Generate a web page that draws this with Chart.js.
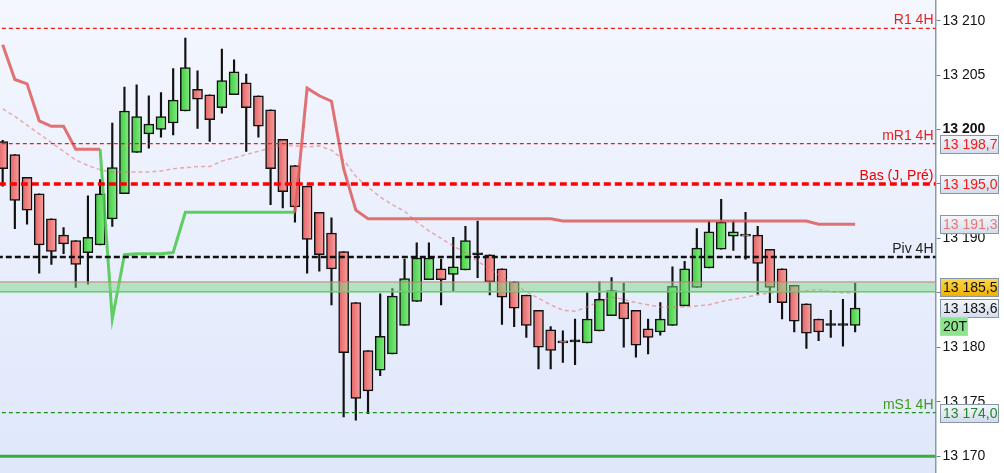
<!DOCTYPE html>
<html>
<head>
<meta charset="utf-8">
<script src="https://cdn.jsdelivr.net/npm/chart.js@4.4.0/dist/chart.umd.min.js"></script>
<style>
  html, body { margin: 0; padding: 0; background: #fff; }
  #wrap { width: 1004px; height: 473px; }
</style>
</head>
<body>
<div id="wrap"><canvas id="chart" width="1004" height="473"></canvas></div>
<script>
// candles (4H)
const opens = [
  13198.9, 13197.7, 13195.6, 13194.1, 13191.8, 13190.3, 13189.8, 13188.7, 13189.4, 13191.8,
  13194.1, 13197.9, 13199.6, 13200.0, 13200.6, 13201.7, 13203.7, 13203.2, 13202.0, 13203.2,
  13204.3, 13203.1, 13201.8, 13199.1, 13196.7, 13194.8, 13192.4, 13190.5, 13188.8, 13184.1,
  13179.7, 13177.9, 13179.4, 13182.0, 13184.2, 13186.2, 13187.2, 13186.7, 13187.1, 13188.5,
  13188.5, 13187.2, 13186.0, 13184.8, 13183.4, 13181.6, 13180.6, 13180.5, 13180.4, 13181.5,
  13182.9, 13184.1, 13183.4, 13181.7, 13181.4, 13182.0, 13183.8, 13185.5, 13187.3, 13189.0,
  13190.2, 13190.4, 13190.3, 13189.0, 13187.2, 13185.7, 13184.0, 13182.6, 13182.0, 13182.0, 13182.0
]
const highs = [
  13199.0, 13197.7, 13195.6, 13194.1, 13191.8, 13191.0, 13189.8, 13193.9, 13195.4, 13200.6,
  13203.9, 13204.1, 13203.1, 13203.4, 13205.6, 13208.4, 13205.4, 13203.2, 13207.4, 13206.4,
  13205.1, 13203.1, 13201.8, 13199.1, 13196.7, 13194.8, 13192.4, 13191.9, 13188.8, 13184.1,
  13179.7, 13184.9, 13185.4, 13188.1, 13189.6, 13189.6, 13188.1, 13190.1, 13191.1, 13191.6,
  13188.5, 13187.2, 13186.0, 13184.8, 13183.4, 13181.9, 13181.5, 13182.6, 13185.0, 13186.0,
  13186.4, 13185.9, 13183.4, 13182.6, 13184.1, 13187.4, 13187.9, 13190.9, 13191.6, 13193.6,
  13191.6, 13192.4, 13191.1, 13189.0, 13187.2, 13185.7, 13184.0, 13182.6, 13183.4, 13184.4, 13185.9
]
const lows = [
  13194.8, 13190.9, 13191.3, 13186.8, 13187.6, 13188.6, 13185.5, 13185.8, 13189.4, 13191.1,
  13194.1, 13197.9, 13198.3, 13199.3, 13199.5, 13201.7, 13200.1, 13198.9, 13201.5, 13203.2,
  13198.0, 13199.3, 13193.1, 13192.8, 13191.5, 13186.8, 13187.0, 13183.9, 13173.6, 13173.3,
  13173.9, 13177.4, 13179.4, 13182.0, 13184.2, 13186.2, 13183.9, 13185.2, 13187.1, 13186.4,
  13184.8, 13182.1, 13181.9, 13180.9, 13178.0, 13178.0, 13178.6, 13178.4, 13180.4, 13181.5,
  13182.9, 13180.0, 13179.1, 13179.4, 13181.1, 13182.0, 13183.8, 13185.5, 13187.3, 13189.0,
  13188.9, 13188.1, 13184.9, 13184.1, 13182.6, 13181.4, 13179.9, 13180.6, 13180.9, 13180.1, 13181.4
]
const closes = [
  13196.4, 13193.5, 13192.6, 13189.4, 13188.8, 13189.5, 13187.6, 13190.1, 13194.1, 13196.5,
  13201.7, 13201.2, 13200.5, 13201.2, 13202.7, 13205.7, 13202.8, 13200.9, 13204.5, 13205.3,
  13202.0, 13200.3, 13196.4, 13194.3, 13192.9, 13189.9, 13188.5, 13187.2, 13179.5, 13175.3,
  13176.0, 13181.0, 13184.7, 13186.3, 13188.2, 13188.2, 13186.2, 13187.4, 13189.8, 13188.5,
  13186.0, 13184.6, 13183.6, 13182.0, 13180.0, 13179.7, 13180.4, 13180.5, 13182.6, 13184.4,
  13185.2, 13182.6, 13180.2, 13180.9, 13182.6, 13185.6, 13187.2, 13189.1, 13190.6, 13191.5,
  13190.6, 13190.2, 13187.7, 13185.5, 13184.1, 13182.4, 13181.3, 13181.4, 13182.0, 13182.0, 13183.6
]

// supertrend-like stop line, 1 = below price (green)
const trendLine = [
  13207.8, 13204.6, 13204.2, 13200.8, 13200.3, 13200.3, 13198.2, 13198.2, 13198.2, 13182.6,
  13188.5, 13188.6, 13188.6, 13188.6, 13188.7, 13192.4, 13192.4, 13192.4, 13192.4, 13192.4,
  13192.4, 13192.4, 13192.4, 13192.4, 13192.4, 13203.8, 13203.1, 13202.6, 13196.4, 13192.6,
  13191.8, 13191.8, 13191.8, 13191.8, 13191.8, 13191.8, 13191.8, 13191.8, 13191.8, 13191.8,
  13191.8, 13191.8, 13191.8, 13191.8, 13191.8, 13191.8, 13191.6, 13191.6, 13191.6, 13191.6,
  13191.6, 13191.6, 13191.6, 13191.6, 13191.6, 13191.6, 13191.6, 13191.6, 13191.6, 13191.6,
  13191.6, 13191.6, 13191.6, 13191.6, 13191.6, 13191.6, 13191.6, 13191.3, 13191.3, 13191.3, 13191.3
]
const trendUp = [
  0, 0, 0, 0, 0, 0, 0, 0, 0, 1,
  1, 1, 1, 1, 1, 1, 1, 1, 1, 1,
  1, 1, 1, 1, 1, 0, 0, 0, 0, 0,
  0, 0, 0, 0, 0, 0, 0, 0, 0, 0,
  0, 0, 0, 0, 0, 0, 0, 0, 0, 0,
  0, 0, 0, 0, 0, 0, 0, 0, 0, 0,
  0, 0, 0, 0, 0, 0, 0, 0, 0, 0, 0
]

// thin dashed moving average
const avgLine = [
  13201.9, 13201.2, 13200.4, 13199.6, 13198.8, 13198.0, 13197.2, 13196.7, 13196.3, 13196.1,
  13196.1, 13196.1, 13196.1, 13196.2, 13196.4, 13196.5, 13196.6, 13196.6, 13197.1, 13197.4,
  13197.7, 13198.0, 13198.3, 13198.6, 13198.5, 13198.4, 13198.5, 13198.1, 13197.2, 13195.7,
  13194.7, 13193.8, 13193.1, 13192.5, 13191.5, 13190.7, 13190.0, 13189.3, 13188.7, 13187.9,
  13187.2, 13186.4, 13185.8, 13185.1, 13184.5, 13183.9, 13183.4, 13183.3, 13183.7, 13184.2,
  13184.6, 13184.4, 13184.1, 13183.9, 13183.7, 13183.7, 13183.7, 13183.8, 13183.9, 13184.2,
  13184.4, 13184.6, 13184.8, 13185.0, 13185.0, 13185.1, 13185.2, 13185.3, 13185.1, 13185.0, 13185.0
]

// horizontal levels
const levelNames = ["R1 4H", "mR1 4H", "Bas (J, Pré)", "Piv 4H", "mS1 4H", ""]
const levelValues = [13209.3, 13198.7, 13195.0, 13188.3, 13174.0, 13170.0]
const bandValues = [13185.1, 13186.0]

// price boxes on the axis
const boxValues = [13198.7, 13195.0, 13191.3, 13185.5, 13183.6, 13174.0]
const tickValues = [13170, 13175, 13180, 13185, 13190, 13195, 13200, 13205, 13210]
const hiddenTicks = [13185, 13195]
const counterLabel = "20T"

// styles
const levelColors = ["#f01c1c", "#f01c1c", "#ff0000", "#111111", "#1f8f1f", "#3aad3a"]
const levelTextColors = ["#e82020", "#e82020", "#f00000", "#222222", "#3f9a1a", ""]
const levelWidths = [1.2, 1.2, 3.5, 2.5, 1.2, 3]
const levelDashes = [[4, 3], [4, 3], [7, 4], [6, 3], [4, 3], []]
const boxTextColors = ["#ec1c1c", "#ec1c1c", "#e77777", "#111111", "#111111", "#22882a"]

const FONT = "Liberation Sans, Arial, sans-serif"
const idx = opens.map((_, i) => i)

function fmt(v, dec) {
    const s = v.toFixed(dec).split(".")
    const ip = s[0].slice(0, -3) + " " + s[0].slice(-3)
    return dec ? ip + "," + s[1] : ip
}

function bodyFill(ctx) {
    const i = ctx.dataIndex
    const chart = ctx.chart
    if (opens[i] === closes[i]) return "#111111"
    const up = closes[i] > opens[i]
    if (!chart.chartArea) return up ? "#5ad85a" : "#ee7a7a"
    const x = chart.scales.x.getPixelForValue(i)
    const g = chart.ctx.createLinearGradient(x - 5, 0, x + 5, 0)
    if (up) {
        g.addColorStop(0, "#3fcc3f")
        g.addColorStop(1, "#86ec86")
    } else {
        g.addColorStop(0, "#e46262")
        g.addColorStop(1, "#f7a2a2")
    }
    return g
}

const X_MIN = -0.22
const X_MAX = 76.6
const span = v => [{ x: X_MIN - 1, y: v }, { x: X_MAX + 1, y: v }]

const levelSets = levelValues.map((v, k) => ({
    type: "line",
    data: span(v),
    borderColor: levelColors[k],
    borderWidth: levelWidths[k],
    borderDash: levelDashes[k],
    pointRadius: 0,
    order: 1
}))

const bgPlugin = {
    id: "bg",
    beforeDraw(chart) {
        const { ctx, chartArea: a } = chart
        ctx.save()
        ctx.fillStyle = "#ffffff"
        ctx.fillRect(0, 0, chart.width, chart.height)
        const g = ctx.createLinearGradient(0, a.top, 0, a.bottom)
        g.addColorStop(0, "#f4f7fe")
        g.addColorStop(1, "#dfe7fb")
        ctx.fillStyle = g
        ctx.fillRect(a.left, a.top, a.right - a.left, a.bottom - a.top)
        ctx.restore()
    }
}

function drawBox(ctx, x, yc, w, text, fill, textColor, border) {
    const h = 18
    const y = Math.round(yc - h / 2) + 0.5
    ctx.fillStyle = fill
    ctx.fillRect(x, y, w, h)
    ctx.strokeStyle = border
    ctx.lineWidth = 1
    ctx.strokeRect(x, y, w, h)
    ctx.fillStyle = textColor
    ctx.textBaseline = "middle"
    ctx.textAlign = "left"
    ctx.fillText(text, x + 2.5, y + h / 2 + 1)
}

const labelPlugin = {
    id: "labels",
    afterDraw(chart) {
        const { ctx, chartArea: a } = chart
        const yS = chart.scales.y
        ctx.save()
        ctx.font = "14px " + FONT
        // level names above their lines
        levelNames.forEach((name, k) => {
            if (!name) return
            const y = yS.getPixelForValue(levelValues[k])
            ctx.fillStyle = levelTextColors[k]
            ctx.textAlign = "right"
            ctx.textBaseline = "alphabetic"
            ctx.fillText(name, a.right - 2, y - 4)
        })
        // boxes on the price axis
        const bx = Math.round(a.right) + 4.5
        boxValues.forEach((v, k) => {
            const y = yS.getPixelForValue(v)
            const fill = ctx.createLinearGradient(0, y - 9, 0, y + 9)
            if (k === 3) {
                fill.addColorStop(0, "#fdd84c")
                fill.addColorStop(1, "#f0b000")
            } else {
                fill.addColorStop(0, "#f6f8fc")
                fill.addColorStop(1, "#d3ddec")
            }
            drawBox(ctx, bx, y, 58, fmt(v, 1), fill, boxTextColors[k], "#8797a8")
            if (k === 4) {
                drawBox(ctx, bx, y + 18, 27, counterLabel, "#8ee48e", "#111111", "#9ee89e")
            }
        })
        ctx.restore()
    }
}

new Chart(document.getElementById("chart"), {
    type: "bar",
    data: {
        datasets: [
            ...levelSets,
            {
                type: "line",
                data: span(bandValues[1]),
                borderColor: "#d77272",
                borderWidth: 1,
                pointRadius: 0,
                fill: { value: bandValues[0] },
                backgroundColor: "rgba(128, 216, 138, 0.5)",
                order: 2
            },
            {
                type: "line",
                data: span(bandValues[0]),
                borderColor: "#5cc85c",
                borderWidth: 1.5,
                pointRadius: 0,
                order: 2
            },
            {
                type: "line",
                data: idx.map(i => ({ x: i, y: avgLine[i] })),
                borderColor: "rgba(226, 110, 110, 0.55)",
                borderWidth: 1.5,
                borderDash: [4, 3],
                pointRadius: 0,
                order: 3
            },
            {
                type: "line",
                data: idx.map(i => ({ x: i, y: trendLine[i] })),
                borderWidth: 3,
                pointRadius: 0,
                segment: {
                    borderColor: c => trendUp[c.p1DataIndex] ? "rgba(70, 200, 70, 0.85)" : "rgba(222, 90, 90, 0.85)"
                },
                order: 3
            },
            {
                data: idx.map(i => ({ x: i, y: [opens[i], closes[i]] })),
                backgroundColor: bodyFill,
                borderColor: "#111111",
                borderWidth: 1.5,
                borderSkipped: false,
                barThickness: 10,
                minBarLength: 2,
                grouped: false,
                order: 9
            },
            {
                data: idx.map(i => ({ x: i, y: [lows[i], highs[i]] })),
                backgroundColor: "#111111",
                borderWidth: 0,
                barThickness: 1.5,
                grouped: false,
                order: 10
            }
        ]
    },
    options: {
        responsive: false,
        animation: false,
        layout: { padding: 0 },
        plugins: { legend: { display: false }, tooltip: { enabled: false } },
        scales: {
            x: {
                type: "linear",
                min: X_MIN,
                max: X_MAX,
                offset: false,
                display: false
            },
            y: {
                position: "right",
                min: 13168.45,
                max: 13211.9,
                afterBuildTicks: s => { s.ticks = tickValues.map(v => ({ value: v })) },
                afterFit: s => { s.width = 68.5; s.paddingTop = 0; s.paddingBottom = 0 },
                border: { display: true, color: "#8a9aaa", width: 1.5 },
                grid: { drawOnChartArea: false, drawTicks: true, tickLength: 5, color: "#6f7f8f" },
                ticks: {
                    padding: 2,
                    color: "#111111",
                    font: c => ({ family: FONT, size: 14, weight: c.tick && c.tick.value === 13200 ? "bold" : "normal" }),
                    callback: v => hiddenTicks.includes(v) ? "" : fmt(v, 0)
                }
            }
        }
    },
    plugins: [bgPlugin, labelPlugin]
})
</script>
</body>
</html>
